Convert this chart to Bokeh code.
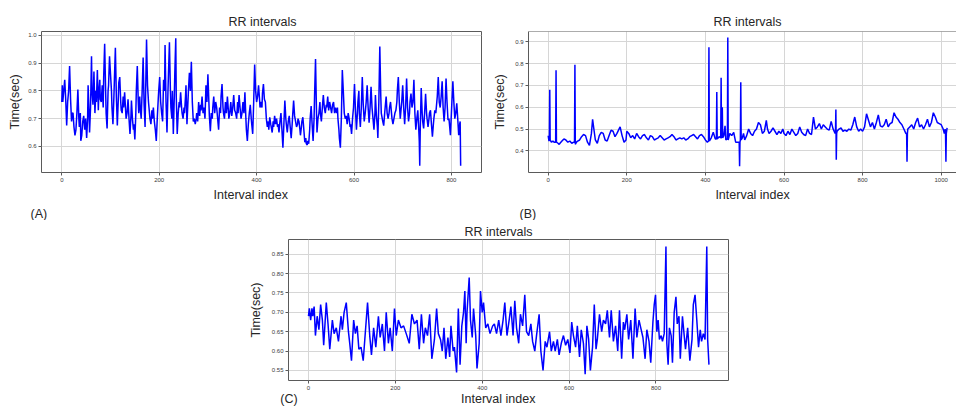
from bokeh.plotting import figure
from bokeh.layouts import column, row
from bokeh.models import Range1d, FixedTicker, NumeralTickFormatter, Span, LinearAxis, Title
from bokeh.embed import file_html
from bokeh.resources import INLINE

# ---------------- data (index, RR seconds) ----------------
rr_a = [(0,.76),(1,.82),(2,.76),(4,.80),(6,.84),(8,.77),(10,.675),(12,.76),(14,.80),(16,.89),
(18,.77),(20,.69),(22,.72),(23,.72),(25,.67),(27,.64),(29,.66),(31,.72),(33,.805),(35,.70),
(36,.67),(38,.72),(39,.62),(41,.64),(43,.69),(45,.71),(47,.66),(49,.70),(51,.63),(53,.70),
(54,.82),(56,.72),(57,.65),(59,.74),(61,.925),(62,.80),(64,.75),(66,.87),(68,.72),(70,.80),
(71,.76),(73,.875),(75,.73),(76,.79),(78,.84),(79,.77),(81,.76),(83,.82),(85,.74),(86,.85),
(88,.97),(90,.80),(91,.72),(93,.665),(95,.80),(96,.82),(98,.925),(100,.86),(102,.80),(103,.74),
(105,.68),(107,.78),(108,.84),(110,.955),(112,.78),(114,.675),(116,.77),(117,.83),(119,.85),(121,.76),
(122,.73),(124,.72),(126,.78),(127,.74),(129,.795),(131,.73),(132,.70),(134,.72),(136,.77),(138,.70),
(140,.645),(142,.71),(143,.765),(145,.70),(147,.66),(148,.68),(150,.625),(152,.72),(153,.80),(155,.89),
(157,.76),(158,.72),(160,.78),(161,.74),(163,.70),(165,.80),(167,.92),(169,.75),(171,.67),(172,.78),
(174,.985),(176,.82),(178,.76),(179,.74),(181,.70),(183,.68),(185,.73),(186,.70),(188,.74),(190,.69),
(192,.66),(194,.62),(196,.70),(198,.77),(199,.80),(201,.85),(203,.76),(205,.72),(207,.69),(209,.84),
(211,.80),(212,.965),(214,.76),(216,.65),(218,.80),(219,.86),(221,.975),(223,.80),(224,.74),(226,.70),
(227,.80),(229,.645),(231,.78),(232,.86),(234,.99),(235,.78),(237,.645),(239,.72),(241,.76),(242,.74),
(244,.795),(246,.74),(247,.72),(249,.70),(251,.74),(252,.72),(254,.78),(255,.82),(257,.68),(259,.76),
(260,.80),(262,.865),(264,.80),(266,.905),(268,.76),(270,.69),(272,.70),(274,.68),(276,.70),(277,.72),
(279,.69),(281,.76),(283,.71),(285,.75),(286,.73),(288,.78),(290,.72),(292,.74),(294,.70),(296,.82),
(298,.76),(300,.86),(302,.76),(303,.71),(305,.655),(307,.72),(309,.70),(310,.74),(312,.78),(314,.72),
(316,.76),(318,.74),(320,.70),(322,.66),(324,.74),(326,.72),(327,.78),(329,.825),(331,.74),(332,.72),
(334,.70),(336,.76),(338,.72),(340,.78),(342,.73),(343,.70),(345,.72),(347,.76),(349,.71),(351,.74),
(353,.785),(355,.73),(357,.72),(359,.70),(361,.76),(362,.72),(364,.785),(366,.74),(368,.70),(370,.72),
(372,.76),(374,.72),(376,.795),(378,.70),(379,.66),(381,.62),(383,.68),(385,.72),(387,.75),(389,.70),
(390,.68),(392,.645),(394,.76),(396,.895),(398,.80),(400,.76),(402,.78),(404,.82),(406,.77),(407,.74),
(409,.76),(411,.74),(412,.79),(414,.825),(416,.77),(418,.76),(420,.70),(422,.67),(424,.69),(425,.66),
(427,.705),(429,.68),(430,.67),(432,.65),(434,.69),(435,.67),(437,.71),(439,.68),(441,.70),(443,.67),
(444,.68),(446,.65),(448,.69),(450,.72),(452,.66),(454,.595),(456,.68),(458,.765),(460,.70),(461,.68),
(463,.65),(465,.69),(467,.71),(469,.67),(471,.63),(473,.68),(474,.71),(476,.765),(478,.71),(480,.69),
(482,.67),(484,.68),(485,.70),(487,.69),(489,.66),(490,.64),(492,.67),(493,.69),(495,.705),(497,.66),
(499,.615),(501,.63),(502,.61),(504,.605),(505,.62),(507,.61),(509,.66),(510,.70),(512,.745),(514,.68),
(516,.62),(518,.70),(519,.78),(521,.915),(523,.72),(524,.65),(526,.70),(528,.72),(530,.76),(531,.72),
(533,.69),(535,.74),(537,.785),(539,.74),(541,.72),(543,.75),(544,.74),(546,.78),(548,.73),(550,.76),
(552,.74),(554,.72),(556,.75),(558,.76),(560,.72),(562,.74),(564,.72),(566,.74),(567,.70),(569,.66),
(570,.63),(572,.595),(574,.70),(576,.875),(578,.80),(580,.72),(582,.70),(584,.71),(586,.68),(588,.72),
(590,.70),(592,.67),(593,.68),(595,.645),(597,.70),(599,.74),(601,.825),(603,.73),(605,.66),(607,.72),
(608,.76),(610,.80),(611,.72),(613,.67),(615,.74),(617,.85),(619,.75),(621,.69),(623,.72),(625,.76),
(627,.82),(629,.74),(631,.685),(633,.74),(635,.815),(637,.74),(639,.70),(641,.66),(643,.72),(644,.785),
(646,.71),(648,.67),(649,.63),(651,.76),(653,.96),(655,.78),(656,.72),(658,.70),(659,.69),(661,.675),
(663,.72),(664,.74),(666,.78),(668,.72),(670,.70),(672,.72),(673,.74),(675,.76),(677,.72),(678,.70),
(680,.68),(682,.70),(684,.72),(686,.73),(688,.76),(689,.80),(691,.85),(693,.76),(695,.70),(697,.74),
(698,.76),(700,.82),(702,.74),(704,.68),(706,.74),(708,.845),(710,.74),(712,.69),(714,.72),(715,.76),
(717,.79),(719,.74),(721,.76),(723,.84),(725,.72),(727,.66),(729,.70),(731,.73),(733,.66),(734,.62),
(735,.53),(736,.66),(738,.81),(740,.72),(741,.69),(743,.665),(745,.72),(747,.79),(749,.72),(750,.70),
(752,.67),(754,.70),(755,.72),(757,.73),(759,.68),(761,.635),(763,.68),(764,.70),(766,.73),(768,.72),
(770,.76),(771,.78),(773,.85),(775,.76),(777,.74),(779,.78),(781,.835),(783,.74),(785,.69),(787,.74),
(789,.845),(791,.76),(793,.695),(795,.70),(796,.68),(798,.64),(800,.72),(801,.76),(803,.835),(805,.76),
(807,.70),(809,.72),(811,.755),(813,.70),(815,.64),(817,.68),(818,.69),(819,.53)]

rr_b = [(0,.47),(2,.445),(3,.45),(4,.68),(5,.45),(8,.44),(12,.445),(15,.44),(19,.44),(20,.77),
(21,.44),(25,.435),(28,.43),(30,.435),(35,.445),(40,.455),(45,.45),(50,.44),(55,.445),(60,.435),
(65,.44),(67,.44),(68,.795),(69,.43),(72,.44),(75,.445),(80,.45),(85,.465),(90,.475),(95,.47),
(100,.44),(105,.425),(110,.48),(113,.545),(117,.49),(120,.45),(125,.435),(130,.47),(135,.485),(140,.48),
(145,.45),(150,.445),(155,.47),(160,.495),(165,.49),(170,.465),(175,.48),(183,.51),(188,.47),(193,.44),
(198,.45),(200,.49),(205,.48),(210,.46),(215,.47),(220,.455),(225,.48),(230,.465),(235,.455),(240,.47),
(245,.475),(250,.46),(255,.45),(260,.47),(265,.465),(270,.45),(275,.455),(280,.46),(285,.47),(290,.46),
(295,.45),(300,.455),(305,.46),(310,.465),(315,.475),(320,.465),(325,.45),(330,.455),(335,.46),(340,.455),
(345,.46),(350,.45),(355,.455),(360,.465),(365,.47),(370,.475),(375,.465),(380,.455),(385,.47),(390,.475),
(395,.465),(400,.45),(405,.44),(408,.445),(409,.875),(410,.445),(415,.46),(420,.485),(425,.455),(428,.455),
(429,.67),(430,.455),(435,.465),(439,.46),(440,.735),(441,.46),(442,.46),(443,.60),(444,.46),(447,.47),
(450,.515),(452,.45),(456,.455),(457,.92),(458,.45),(462,.48),(467,.47),(472,.485),(477,.44),(483,.44),
(486,.44),(487,.33),(488,.44),(489,.45),(490,.715),(491,.45),(494,.46),(497,.48),(500,.45),(505,.47),
(510,.50),(515,.48),(520,.47),(525,.49),(530,.50),(535,.53),(540,.52),(545,.48),(550,.49),(555,.54),
(558,.50),(562,.48),(567,.49),(572,.505),(577,.49),(582,.475),(587,.49),(592,.48),(597,.50),(600,.48),
(605,.47),(610,.49),(615,.475),(620,.50),(625,.485),(630,.47),(635,.48),(640,.51),(645,.485),(650,.475),
(655,.47),(660,.50),(665,.48),(670,.475),(675,.555),(680,.50),(685,.51),(690,.525),(695,.50),(700,.52),
(705,.51),(710,.50),(715,.495),(720,.535),(725,.50),(730,.48),(731,.49),(732,.59),(733,.36),(734,.48),
(735,.49),(740,.50),(745,.505),(750,.49),(755,.495),(760,.49),(765,.50),(770,.495),(775,.52),(780,.555),
(785,.51),(790,.49),(795,.50),(800,.49),(805,.51),(810,.57),(815,.54),(820,.51),(825,.53),(830,.50),
(835,.53),(840,.565),(845,.515),(850,.51),(855,.52),(860,.545),(865,.51),(870,.525),(875,.53),(880,.575),
(885,.555),(890,.545),(895,.53),(900,.52),(905,.50),(910,.48),(912,.48),(913,.35),(914,.48),(915,.50),
(920,.51),(925,.52),(930,.50),(935,.53),(940,.55),(945,.51),(950,.52),(955,.50),(960,.52),(965,.545),
(970,.51),(975,.53),(980,.575),(985,.555),(990,.53),(995,.525),(1000,.52),(1005,.50),(1008,.48),(1010,.50),
(1011,.48),(1012,.35),(1013,.48),(1015,.505)]

rr_c = [(0,.69),(2,.71),(5,.68),(8,.71),(10,.69),(13,.715),(16,.64),(20,.69),(24,.655),(28,.72),
(32,.68),(35,.615),(41,.725),(45,.67),(49,.605),(55,.68),(59,.645),(64,.66),(69,.625),(75,.69),
(78,.655),(82,.70),(87,.725),(92,.65),(95,.62),(99,.575),(104,.68),(108,.645),(112,.665),(116,.605),
(121,.61),(126,.575),(131,.65),(136,.725),(141,.64),(145,.59),(150,.66),(155,.61),(161,.69),(165,.635),
(170,.67),(175,.60),(179,.70),(184,.62),(188,.66),(193,.60),(198,.71),(202,.64),(207,.68),(213,.66),
(219,.665),(225,.645),(232,.62),(238,.695),(244,.67),(250,.68),(255,.605),(260,.695),(265,.62),(269,.66),
(274,.64),(279,.695),(284,.58),(290,.63),(295,.71),(299,.645),(304,.63),(308,.60),(312,.66),(316,.58),
(321,.635),(325,.585),(328,.665),(333,.60),(336,.61),(341,.545),(345,.71),(349,.565),(353,.665),(357,.70),
(360,.755),(363,.62),(365,.70),(370,.79),(373,.68),(377,.635),(380,.71),(385,.64),(388,.555),(393,.62),
(396,.755),(400,.70),(403,.725),(408,.66),(413,.67),(418,.645),(424,.665),(428,.67),(433,.645),(438,.68),
(443,.64),(448,.68),(452,.725),(457,.64),(462,.68),(466,.715),(471,.64),(475,.73),(479,.66),(484,.62),
(488,.695),(493,.665),(498,.745),(502,.65),(507,.64),(512,.67),(516,.625),(521,.60),(525,.64),(531,.695),
(535,.60),(540,.55),(545,.625),(549,.61),(555,.65),(559,.60),(564,.625),(568,.60),(573,.63),(577,.59),
(582,.62),(587,.64),(592,.615),(597,.63),(602,.595),(606,.675),(610,.64),(615,.61),(619,.665),(624,.585),
(628,.655),(633,.62),(637,.54),(641,.665),(645,.63),(649,.55),(654,.61),(658,.72),(662,.605),(665,.63),
(670,.695),(675,.65),(679,.68),(684,.67),(688,.705),(693,.635),(697,.705),(702,.625),(707,.665),(712,.60),
(716,.705),(721,.58),(725,.675),(728,.655),(733,.695),(737,.63),(742,.68),(747,.58),(752,.71),(756,.635),
(761,.68),(765,.66),(770,.635),(775,.58),(779,.655),(784,.625),(788,.57),(793,.675),(796,.72),(799,.745),
(802,.65),(805,.68),(808,.63),(812,.64),(815,.625),(819,.645),(823,.87),(825,.62),(828,.565),(831,.66),
(835,.64),(838,.57),(842,.70),(846,.74),(849,.67),(853,.69),(856,.58),(861,.69),(865,.64),(868,.605),
(873,.66),(878,.575),(883,.63),(886,.72),(890,.745),(894,.68),(898,.61),(902,.655),(905,.625),(909,.645),
(913,.63),(917,.87),(919,.63),(922,.565)]

x_ticks_a = [0, 200, 400, 600, 800]
y_ticks_a = [0.6, 0.7, 0.8, 0.9, 1.0]
x_ticks_b = [0, 200, 400, 600, 800, 1000]
y_ticks_b = [0.4, 0.5, 0.6, 0.7, 0.8, 0.9]
x_ticks_c = [0, 200, 400, 600, 800]
y_ticks_c = [0.55, 0.60, 0.65, 0.70, 0.75, 0.80, 0.85]

title_text = "RR intervals"
x_label = "Interval index"
y_label = "Time(sec)"
panel_tags = ["(A)", "(B)", "(C)"]

FONT = "Liberation Sans"
SPINE = "#5a5a5a"
GRID = "#d6d6d6"
TXT = "#262626"
LINE = "#0000ff"


def make_panel(data, xr, yr, xt, yt, yfmt, width, height, borders, title_offset,
               outline=True, ylabel_standoff=3, title_standoff=6):
    left, right, top, bottom = borders
    p = figure(width=width, height=height, output_backend="svg", toolbar_location=None,
               x_range=Range1d(*xr), y_range=Range1d(*yr),
               min_border_left=left, min_border_right=right,
               min_border_top=top, min_border_bottom=bottom,
               background_fill_color="white", border_fill_color="white")
    p.title.text = title_text
    p.title.align = "left"
    p.title.offset = title_offset
    p.title.text_font = FONT
    p.title.text_font_size = "12.5px"
    p.title.text_font_style = "normal"
    p.title.text_color = TXT
    p.title.standoff = title_standoff
    if outline:
        p.outline_line_color = SPINE
        p.outline_line_width = 1
        p.outline_line_alpha = 1
    else:
        p.outline_line_color = None
    for ax in (p.xaxis[0], p.yaxis[0]):
        ax.axis_line_color = None if outline else SPINE
        ax.major_tick_line_color = SPINE
        ax.major_tick_out = 3
        ax.major_tick_in = 0
        ax.minor_tick_line_color = None
        ax.major_label_text_font = FONT
        ax.major_label_text_font_size = "6px"
        ax.major_label_text_color = "#3a3a3a"
        ax.major_label_standoff = 2
        ax.axis_label_text_font = FONT
        ax.axis_label_text_font_size = "12.5px"
        ax.axis_label_text_font_style = "normal"
        ax.axis_label_text_color = TXT
    p.xaxis[0].ticker = FixedTicker(ticks=xt)
    p.yaxis[0].ticker = FixedTicker(ticks=yt)
    p.yaxis[0].formatter = NumeralTickFormatter(format=yfmt)
    p.xaxis[0].formatter = NumeralTickFormatter(format="0")
    p.yaxis[0].axis_label = y_label
    p.yaxis[0].axis_label_standoff = ylabel_standoff
    p.xgrid.ticker = FixedTicker(ticks=xt)
    p.ygrid.ticker = FixedTicker(ticks=yt)
    p.grid.grid_line_color = GRID
    p.grid.grid_line_width = 1
    xs = [d[0] for d in data]
    ys = [d[1] for d in data]
    p.line(xs, ys, line_color=LINE, line_width=1.5)
    return p


def text_row(p, positions, texts, standoff):
    """A tick-less axis below the frame that carries the x label (and panel tag)."""
    ax = LinearAxis(ticker=FixedTicker(ticks=positions),
                    major_label_overrides={k: t for k, t in zip(positions, texts)},
                    axis_line_color=None, major_tick_line_color=None,
                    minor_tick_line_color=None, major_tick_out=0, major_tick_in=0,
                    major_label_text_font=FONT, major_label_text_font_size="12.5px",
                    major_label_text_color=TXT, major_label_standoff=standoff)
    p.add_layout(ax, "below")


def tag_title(p, text, offset):
    p.add_layout(Title(text=text, align="left", offset=offset, standoff=0,
                       text_font=FONT, text_font_size="12.5px", text_font_style="normal",
                       text_color=TXT), "below")


# panel A (left, top)
pa = make_panel(rr_a, (-41.7, 861.8), (0.506, 1.014), x_ticks_a, y_ticks_a, "0.0",
                484, 220, (41, 3, 31, 43), title_offset=187)
text_row(pa, [388], [x_label], 3)
tag_title(pa, panel_tags[0], -11)

# panel B (right, top): frame runs off the right edge, no right spine
pb = make_panel(rr_b, (-50.1, 1038.9), (0.301, 0.947), x_ticks_b, y_ticks_b, "0.0",
                472, 220, (44, 0, 31, 44), title_offset=185, outline=False, ylabel_standoff=5)
pb.add_layout(Span(location=0.947, dimension="width", line_color=SPINE, line_width=1))
text_row(pb, [520], [x_label], 3)
tag_title(pb, panel_tags[1], -9)

# panel C (bottom, centre)
pc = make_panel(rr_c, (-46, 967), (0.524, 0.888), x_ticks_c, y_ticks_c, "0.00",
                956, 188, (288, 228, 19, 25), title_offset=176, ylabel_standoff=6,
                title_standoff=2)
text_row(pc, [-45, 437], [panel_tags[2], x_label], -1)

layout = column(row(pa, pb), pc)
open("out.html", "w").write(file_html(layout, INLINE))
